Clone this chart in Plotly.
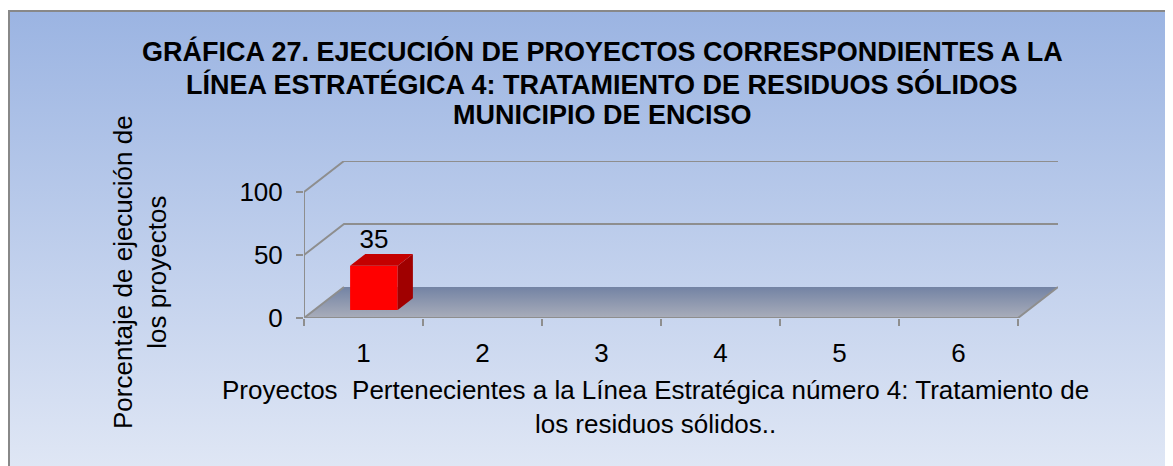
import base64
import plotly.graph_objects as go

# ---------------- data ----------------
categories = [1, 2, 3, 4, 5, 6]
tick_labels = ["1", "2", "3", "4", "5", "6"]
values = [35, None, None, None, None, None]
y_ticks = [0, 50, 100]
y_max = 100

title_lines = [
    "GRÁFICA 27. EJECUCIÓN DE PROYECTOS CORRESPONDIENTES A LA",
    "LÍNEA ESTRATÉGICA 4: TRATAMIENTO DE RESIDUOS SÓLIDOS",
    "MUNICIPIO DE ENCISO",
]
y_title_lines = ["Porcentaje de ejecución de", "los proyectos"]
x_title_lines = [
    "Proyectos\u00a0 Pertenecientes a la Línea Estratégica número 4: Tratamiento de",
    "los residuos sólidos..",
]

# ---------------- style / geometry ----------------
W, H = 1173, 466
OFF = 8                                # page offset of the figure (body margin)
PX_CAT, PX_VAL = 119.0, 1.26          # pixels per category / per value unit
DX, DY = 40 / PX_CAT, 31 / PX_VAL     # depth vector (oblique projection) in data units
F0, F1 = 0.26, 0.64                   # bar front / back depth fractions
BAR_W = 0.40
FONT = "Liberation Sans, Arial, sans-serif"
GRID = "#8e8e8e"
TXT = 26

x_lo, x_hi = categories[0] - 0.5, categories[-1] + 0.5
plot_w = (x_hi - x_lo + DX) * PX_CAT
plot_h = (y_max + DY) * PX_VAL
ml = 304 - OFF
mb = H - (318 - OFF)
mt = H - mb - plot_h
mr = W - ml - plot_w


def px_to_paper_x(px):  # px: page coordinate of the reference
    return (px - OFF - ml) / plot_w


def px_to_paper_y(py):
    return (H - mb - (py - OFF)) / plot_h


fig = go.Figure()

# floor with gradient
fig.add_trace(go.Scatter(
    x=[x_lo, x_hi, x_hi + DX, x_lo + DX, x_lo],
    y=[0, 0, DY, DY, 0],
    mode="lines", line=dict(width=0), fill="toself",
    fillgradient=dict(type="vertical",
                      colorscale=[[0, "#a9adba"], [1, "#7383a4"]]),
    hoverinfo="skip", showlegend=False,
))
# floor outline (front edge + sides)
fig.add_trace(go.Scatter(
    x=[x_lo + DX, x_lo, x_hi, x_hi + DX],
    y=[DY, 0, 0, DY],
    mode="lines", line=dict(color=GRID, width=2),
    hoverinfo="skip", showlegend=False,
))
# gridlines (left wall diagonal + back wall horizontal)
for v in y_ticks[1:]:
    fig.add_trace(go.Scatter(
        x=[x_lo, x_lo + DX, x_hi + DX],
        y=[v, v + DY, v + DY],
        mode="lines", line=dict(color=GRID, width=2),
        hoverinfo="skip", showlegend=False,
    ))
# front vertical axis line
fig.add_trace(go.Scatter(
    x=[x_lo, x_lo], y=[0, y_max], mode="lines",
    line=dict(color=GRID, width=2), hoverinfo="skip", showlegend=False,
))

# bars on an overlaying axis pair so they sit above the floor
for c, v in zip(categories, values):
    if v is None:
        continue
    xl, xr = c - BAR_W / 2, c + BAR_W / 2
    # side face
    fig.add_trace(go.Scatter(
        x=[xr + F0 * DX, xr + F1 * DX, xr + F1 * DX, xr + F0 * DX, xr + F0 * DX],
        y=[F0 * DY, F1 * DY, v + F1 * DY, v + F0 * DY, F0 * DY],
        mode="lines", line=dict(width=0), fill="toself", fillcolor="#a00000",
        hoverinfo="skip", showlegend=False, xaxis="x2", yaxis="y2",
    ))
    # top face
    fig.add_trace(go.Scatter(
        x=[xl + F0 * DX, xr + F0 * DX, xr + F1 * DX, xl + F1 * DX, xl + F0 * DX],
        y=[v + F0 * DY, v + F0 * DY, v + F1 * DY, v + F1 * DY, v + F0 * DY],
        mode="lines", line=dict(width=0), fill="toself", fillcolor="#c40000",
        hoverinfo="skip", showlegend=False, xaxis="x2", yaxis="y2",
    ))

fig.add_trace(go.Bar(
    x=[c + F0 * DX for c in categories],
    y=values,
    base=[F0 * DY] * len(categories),
    width=BAR_W,
    marker=dict(color="#ff0000", line=dict(width=0)),
    hoverinfo="skip", showlegend=False, xaxis="x2", yaxis="y2",
))
# value labels
fig.add_trace(go.Scatter(
    x=[c + F0 * DX for c, v in zip(categories, values) if v is not None],
    y=[v + F1 * DY for v in values if v is not None],
    text=[str(v) for v in values if v is not None],
    mode="text", textposition="top center",
    textfont=dict(family=FONT, size=TXT, color="#000000"),
    hoverinfo="skip", showlegend=False, cliponaxis=False, xaxis="x2", yaxis="y2",
))

# background gradient with border (SVG image)
bg_x0, bg_y0 = OFF, 10
bg_w, bg_h = W + OFF - bg_x0, H + OFF - bg_y0
svg = f'''<svg xmlns="http://www.w3.org/2000/svg" width="{bg_w}" height="{bg_h}" viewBox="0 0 {bg_w} {bg_h}" preserveAspectRatio="none">
<defs><linearGradient id="g" x1="0" y1="0" x2="0" y2="1">
<stop offset="0" stop-color="#9bb4e2"/><stop offset="1" stop-color="#e0e7f5"/></linearGradient></defs>
<rect x="0" y="0" width="{bg_w}" height="{bg_h}" fill="url(#g)"/>
<rect x="0" y="0" width="{bg_w}" height="2" fill="#888888"/>
<rect x="0" y="0" width="2" height="{bg_h}" fill="#888888"/>
</svg>'''
svg_uri = "data:image/svg+xml;base64," + base64.b64encode(svg.encode()).decode()

fig.add_layout_image(dict(
    source=svg_uri, xref="paper", yref="paper",
    x=px_to_paper_x(bg_x0), y=px_to_paper_y(bg_y0),
    sizex=bg_w / plot_w, sizey=bg_h / plot_h,
    xanchor="left", yanchor="top", sizing="stretch", layer="below",
))

annotations = []
for line, yc in zip(title_lines, [52, 84, 115]):
    annotations.append(dict(
        text=line, xref="paper", yref="paper",
        x=px_to_paper_x(602), y=px_to_paper_y(yc), xanchor="center", yanchor="middle",
        showarrow=False, font=dict(family=FONT, size=27, color="#000000", weight="bold")))
annotations.append(dict(
    text="<br>".join(y_title_lines), xref="paper", yref="paper",
    x=px_to_paper_x(140), y=px_to_paper_y(272), xanchor="center", yanchor="middle",
    textangle=-90, showarrow=False, font=dict(family=FONT, size=TXT, color="#000000")))
annotations.append(dict(
    text="<br>".join(x_title_lines), xref="paper", yref="paper",
    x=px_to_paper_x(655), y=px_to_paper_y(407), xanchor="center", yanchor="middle",
    showarrow=False, font=dict(family=FONT, size=TXT, color="#000000")))

fig.update_layout(
    width=W, height=H, autosize=False,
    margin=dict(l=ml, r=mr, t=mt, b=mb, pad=0),
    paper_bgcolor="#ffffff", plot_bgcolor="rgba(0,0,0,0)",
    showlegend=False, annotations=annotations,
    font=dict(family=FONT, size=TXT, color="#000000"),
    xaxis=dict(
        range=[x_lo, x_hi + DX], tickmode="array", tickvals=categories, ticktext=tick_labels,
        ticks="", showgrid=False, zeroline=False, showline=False, fixedrange=True,
        ticklabelstandoff=17, tickfont=dict(family=FONT, size=TXT, color="#000000"),
        minor=dict(tick0=0.5, dtick=1, ticks="outside", ticklen=7, tickwidth=2,
                   tickcolor=GRID, showgrid=False),
    ),
    yaxis=dict(
        range=[0, y_max + DY], tickmode="array", tickvals=y_ticks,
        ticks="outside", ticklen=7, tickwidth=2, tickcolor=GRID,
        showgrid=False, zeroline=False, showline=False, fixedrange=True,
        ticklabelstandoff=8, tickfont=dict(family=FONT, size=TXT, color="#000000"),
    ),
    xaxis2=dict(overlaying="x", range=[x_lo, x_hi + DX], visible=False, fixedrange=True,
                showgrid=False, zeroline=False),
    yaxis2=dict(overlaying="y", range=[0, y_max + DY], visible=False, fixedrange=True,
                showgrid=False, zeroline=False),
)

fig.write_html("out.html")
